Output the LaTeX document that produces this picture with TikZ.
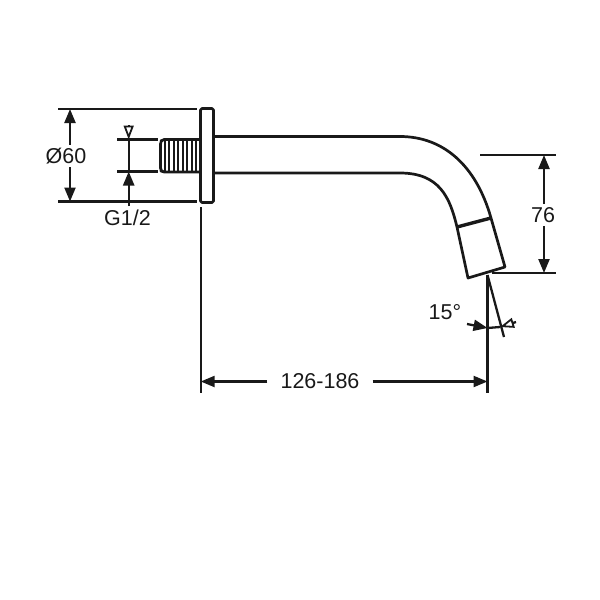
\documentclass[tikz,border=0pt]{standalone}
\usepackage{fontspec}
\setmainfont{Liberation Sans}
\usetikzlibrary{arrows.meta,calc,positioning}

\begin{document}
\begin{tikzpicture}[x=1pt,y=-1pt,
  body/.style={draw=black!90,line width=2.7pt,line join=round},
  extline/.style={draw=black!90,line width=2.3pt},
  dimline/.style={draw=black!90,line width=2.3pt,-{Triangle[length=14pt,width=11pt]}},
  openline/.style={draw=black!90,line width=2.3pt,-{Triangle[open,length=14pt,width=10pt,line width=1.8pt]}},
  dimtext/.style={font=\fontsize{21.5}{24}\selectfont,text=black!90,inner sep=1pt},
 ]
\useasboundingbox (0,0) rectangle (600,600);

% flange and thread
\draw[body,rounded corners=1.5pt] (200.5,108.5) rectangle (213.5,202.5);
\draw[body,rounded corners=2pt] (200,139.5) -- (162,139.5) -- (160.5,142) -- (160.5,170) -- (162,172) -- (200,172);
\foreach \x in {164.5,169,...,197}
  \draw[black!90,line width=2pt] (\x,140) -- (\x,171.5);

% spout
\draw[body] (214,136.5) -- (400,136.5) .. controls (443,136.5) and (476,165) .. (491,218)
  -- (505,267) -- (468,278) -- (457,227)
  .. controls (450,198) and (440,173) .. (400,173) -- (214,173);
\draw[black!90,line width=3.4pt] (457,227) -- (491,218);

% outline points of the dimensions
\coordinate (D1) at (58,109);
\coordinate (D2) at (197,109);
\coordinate (D3) at (58,201.5);
\coordinate (D4) at (197,201.5);
\coordinate (DT) at (70,109);
\coordinate (DB) at (70,201.5);
\coordinate (G1) at (117,139.5);
\coordinate (G2) at (158,139.5);
\coordinate (G3) at (117,171.5);
\coordinate (G4) at (158,171.5);
\coordinate (GA) at (128.7,125);
\coordinate (GT) at (128.7,139.5);
\coordinate (GB) at (128.7,171.5);
\coordinate (GE) at (128.7,206);
\coordinate (H1) at (480,155);
\coordinate (H2) at (556,155);
\coordinate (H3) at (492,273);
\coordinate (H4) at (556,273);
\coordinate (HT) at (544,155);
\coordinate (HB) at (544,273);
\coordinate (L1) at (200.7,207);
\coordinate (L2) at (200.7,392.5);
\coordinate (L3) at (487.5,275);
\coordinate (L4) at (487.5,392.5);
\coordinate (LL) at (200.7,381.5);
\coordinate (LR) at (487.5,381.5);
\coordinate (A1) at (504,337);
\coordinate (A2) at (467,324);
\coordinate (A3) at (487.5,328);
\coordinate (A4) at (516,322);
\coordinate (A5) at (500,327);

% labels
\node[dimtext,inner ysep=3pt] (Ldia) at (66,156) {Ø60};
\node[dimtext] (Lg) at (127.5,218) {G1/2};
\node[dimtext,inner ysep=3pt] (Lh) at (543,215) {76};
\node[dimtext,inner xsep=13pt] (Ll) at (320,381.5) {126-186};
\node[dimtext] (La) at (445,312) {15°};

% extension lines
\path[extline]
(D1) edge (D2)
(D3) edge (D4)
(G1) edge (G2)
(G3) edge (G4)
(H1) edge (H2)
(H3) edge (H4)
(L1) edge (L2)
(L3) edge (L4)
(L3) edge (A1)
(GT) edge (GB)
(A3) edge (A5);

% dimension arrows
\draw[dimline] (Ldia.north -| DT) -- (DT);
\draw[dimline] (Ldia.south -| DB) -- (DB);
\draw[dimline] (Lh.north -| HT) -- (HT);
\draw[dimline] (Lh.south -| HB) -- (HB);
\draw[dimline] (Ll.west |- LL) -- (LL);
\draw[dimline] (Ll.east |- LR) -- (LR);
\draw[dimline] (GE) -- (GB);
\draw[dimline] (A2) -- (A3);
\draw[openline] (GA) -- (GT);
\draw[openline] (A4) -- (A5);

\end{tikzpicture}
\end{document}
